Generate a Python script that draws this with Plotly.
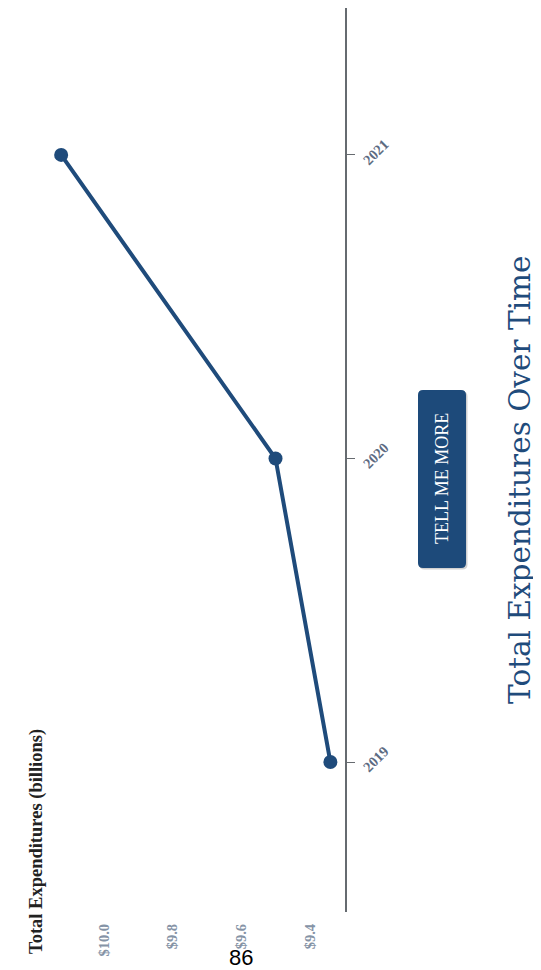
import plotly.graph_objects as go

years = [2019, 2020, 2021]
values = [9.34, 9.50, 10.125]
x_ticks = [9.4, 9.6, 9.8, 10.0]
x_tick_labels = ["<b>$9.4</b>", "<b>$9.6</b>", "<b>$9.8</b>", "<b>$10.0</b>"]
y_ticks = [2019, 2020, 2021]
y_tick_labels = ["<b>2019</b>", "<b>2020</b>", "<b>2021</b>"]

OFF = 8  # page body margin
W, H = 533, 962
ML, MR, MT, MB = 0, 196, 0, 58
pw = W - ML - MR
ph = H - MT - MB

def px_x(p):
    return (p - OFF - ML) / pw

def px_y(p):
    return (H - MB - (p - OFF)) / ph

line_color = "#1f4b7b"

fig = go.Figure()
fig.add_trace(go.Scatter(
    x=values, y=years, mode="lines+markers",
    line=dict(color=line_color, width=4),
    marker=dict(size=14, color=line_color),
    hoverinfo="skip", showlegend=False,
))

fig.update_layout(
    width=W, height=H,
    margin=dict(l=ML, r=MR, t=MT, b=MB),
    paper_bgcolor="white", plot_bgcolor="white",
    xaxis=dict(
        range=[10.28, 9.2974], tickvals=x_ticks, ticktext=x_tick_labels,
        tickangle=-90, showgrid=False, zeroline=False, showline=False,
        ticks="", ticklabelstandoff=8,
        tickfont=dict(family="Liberation Serif", size=14.5, color="#8593a6"),
    ),
    yaxis=dict(
        range=[2018.506, 2021.484], tickvals=y_ticks, ticktext=y_tick_labels, side="right",
        tickangle=-45, showgrid=False, zeroline=False,
        showline=True, linecolor="#666b70", linewidth=2,
        ticks="outside", ticklen=8, tickcolor="#666b70", tickwidth=1,
        ticklabelstandoff=6, ticklabelshift=8,
        tickfont=dict(family="Liberation Serif", size=14.5, color="#5d6b82"),
    ),
)

btn_path = ("M -19,-89 L 19,-89 Q 24,-89 24,-84 L 24,84 Q 24,89 19,89 "
            "L -19,89 Q -24,89 -24,84 L -24,-84 Q -24,-89 -19,-89 Z")
cx, cy = px_x(442), px_y(479)
fig.add_shape(type="path", xref="paper", yref="paper", xsizemode="pixel", ysizemode="pixel",
              xanchor=cx + 1.5 / pw, yanchor=cy - 1.5 / ph, path=btn_path,
              fillcolor="rgba(0,0,0,0.18)", line=dict(width=0), layer="above")
fig.add_shape(type="path", xref="paper", yref="paper", xsizemode="pixel", ysizemode="pixel",
              xanchor=cx, yanchor=cy, path=btn_path,
              fillcolor="#1d4a7a", line=dict(width=0), layer="above")

def note(x, y, text, font, angle=0):
    fig.add_annotation(x=px_x(x), y=px_y(y), xref="paper", yref="paper", text=text,
                       textangle=angle, showarrow=False, xanchor="center", yanchor="middle",
                       font=font)

note(442, 479, "TELL ME MORE", dict(family="Liberation Serif", size=18, color="white"), -90)
note(520, 480, "Total Expenditures Over Time",
     dict(family="DejaVu Serif", size=29.5, color="#1f4b7b"), -90)
note(36, 842, "<b>Total Expenditures (billions)</b>",
     dict(family="Liberation Serif", size=18.5, color="#222222"), -90)
note(241, 957, "86", dict(family="Liberation Sans", size=22, color="black"))

fig.write_html("out.html")
